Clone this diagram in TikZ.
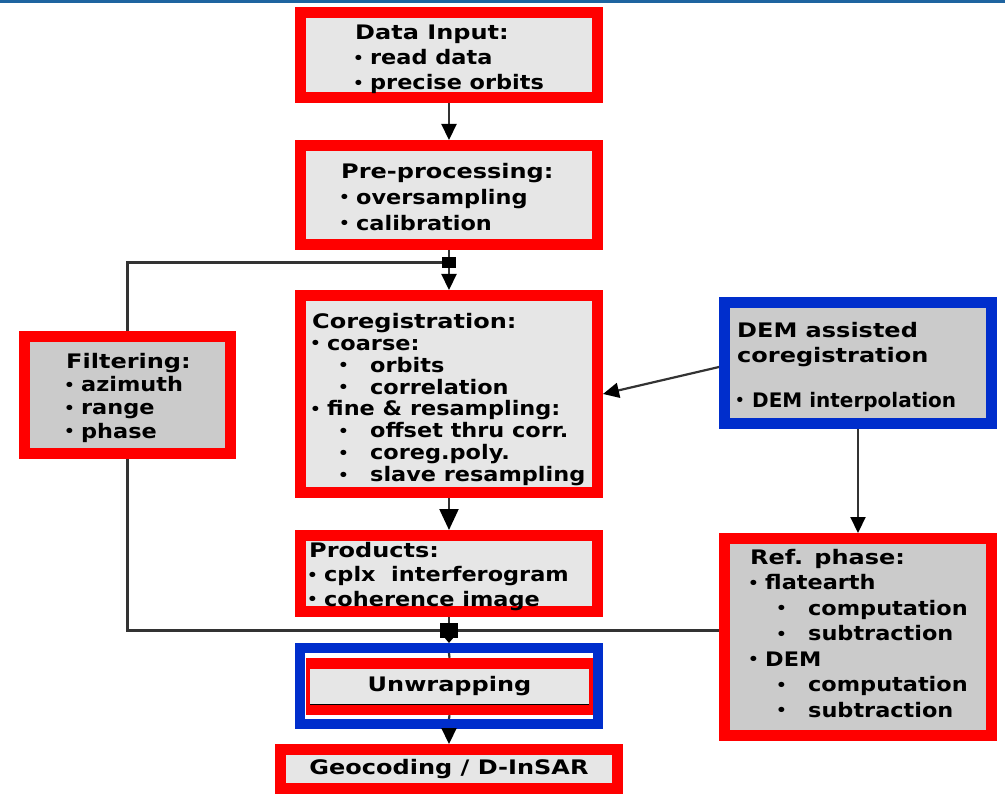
\documentclass[tikz,border=0pt]{standalone}
\usepackage{fontspec}
\newfontfamily\lab[FakeStretch=1.12]{DejaVu Sans}
\newfontfamily\labt[FakeStretch=1.2]{DejaVu Sans}
\newfontfamily\labn{DejaVu Sans}
\usetikzlibrary{arrows.meta}
\definecolor{boxlight}{HTML}{E6E6E6}
\definecolor{boxdark}{HTML}{CBCBCB}
\definecolor{redc}{HTML}{FF0000}
\definecolor{bluec}{HTML}{002ECC}
\definecolor{linec}{HTML}{333333}
\definecolor{band}{HTML}{1E64A0}
\newcommand\dotb{\raisebox{1.5pt}{\fontsize{15}{15}\selectfont •}}
\newcommand\bu{\makebox[15pt][l]{\hspace*{-2pt}\dotb}}
\newcommand\sbu{\hspace*{28pt}\makebox[30pt][l]{\hspace*{-2pt}\dotb}}
\tikzset{
  box/.style={rectangle, inner sep=0pt, line width=11pt},
  redbox/.style={box, draw=redc, fill=boxlight},
  sidebox/.style={box, draw=redc, fill=boxdark},
  bluebox/.style={box, draw=bluec, fill=boxdark},
  txt/.style={anchor=north west, inner sep=0pt, align=left,
    font=\lab\bfseries\fontsize{20}{#1}\selectfont},
  conn/.style={draw=linec, line width=2.2pt},
  arr/.style={conn, -{Triangle[width=15pt,length=16pt,color=black]}},
  bigarr/.style={conn, -{Triangle[width=19pt,length=21pt,color=black]}},
  smallarr/.style={conn, -{Triangle[width=8pt,length=5pt,color=black]}},
  junc/.style={fill=black, inner sep=0pt, rectangle},
}
\begin{document}
\begin{tikzpicture}[x=1pt,y=-1pt]
\useasboundingbox (0,0) rectangle (1005,794);
\fill[band] (0,0) rectangle (1005,3);
% boxes
\node[redbox, minimum width=297pt, minimum height=85pt] (din) at (449,55.5) {};
\node[redbox, minimum width=297pt, minimum height=99pt] (pre) at (449,195) {};
\node[redbox, minimum width=297pt, minimum height=197pt] (cor) at (449,394) {};
\node[redbox, minimum width=297pt, minimum height=76pt] (prod) at (449,573.5) {};
\node[sidebox, minimum width=206pt, minimum height=117pt] (fil) at (127.5,395) {};
\node[bluebox, minimum width=267pt, minimum height=121pt] (dem) at (858,363) {};
\node[sidebox, minimum width=267pt, minimum height=197pt] (ref) at (858,637) {};
\node[box, draw=bluec, fill=white, line width=10pt, minimum width=298pt, minimum height=76pt] (unwB) at (449,686) {};
\node[fill=redc, inner sep=0pt, minimum width=287pt, minimum height=57pt] (unwR) at (449.5,686.5) {};
\node[fill=boxlight, inner sep=0pt, minimum width=279pt, minimum height=35pt,
      font=\labt\bfseries\fontsize{20}{22}\selectfont] (unw) at (449.5,686.5) {Unwrapping};
\draw[black, line width=1.2pt] (unw.south west) -- (unw.south east);
\node[redbox, minimum width=337pt, minimum height=39pt,
      font=\labt\bfseries\fontsize{20}{22}\selectfont] (geo) at (449,769) {Geocoding / D-InSAR};
% texts
\node[txt=25pt] (tdin) at (355,25) {{\labt Data Input:}\\\bu read data\\\bu precise orbits};
\node[txt=26pt] (tpre) at (341,163) {{\labt Pre-processing:}\\\bu oversampling\\\bu calibration};
\node[txt=21.9pt] (tcor) at (312,313) {{\labt Coregistration:}\\\bu coarse:\\\sbu orbits\\\sbu correlation\\\bu fine \& resampling:\\\sbu offset thru corr.\\\sbu coreg.poly.\\\sbu slave resampling};
\node[txt=24.5pt] (tprod) at (309,542) {{\labt Products:}\\\bu cplx\ \ interferogram\\\bu coherence image};
\node[txt=23.3pt] (tfil) at (66,353) {{\labt Filtering:}\\\bu azimuth\\\bu range\\\bu phase};
\node[txt=25pt] (tdem) at (737,322) {{\labt DEM assisted}\\{\labt coregistration}\\[20pt]{\labn\bu DEM interpolation}};
\node[txt=25.5pt] (tref) at (750,549) {{\labt Ref. phase:}\\\bu flatearth\\\sbu computation\\\sbu subtraction\\\bu DEM\\\sbu computation\\\sbu subtraction};
% junctions
\node[junc, minimum width=14pt, minimum height=11pt] (j1) at (449,262.5) {};
\node[junc, minimum width=18pt, minimum height=15pt] (j2) at (449,630.5) {};
% connectors
\draw[arr] (din) -- (pre);
\draw[conn] (pre) -- (j1);
\draw[arr] (j1) -- (cor);
\draw[conn] (fil.north) |- (j1);
\draw[conn] (fil.south) |- (j2);
\draw[conn] (j2) -- (j2 -| ref.west);
\draw[bigarr] (cor) -- (prod);
\draw[conn] (prod) -- (j2);
\draw[smallarr] (j2) -- (unwB);
\draw[conn] ([yshift=-10pt]unwB.north) -- (unwR.north);
\draw[conn] (unwR.south) -- ([yshift=10pt]unwB.south);
\draw[arr] (unwB) -- (geo);
\draw[arr] ([yshift=-4pt]dem.west) -- (cor.east);
\draw[arr] (dem) -- (ref);
\end{tikzpicture}
\end{document}
